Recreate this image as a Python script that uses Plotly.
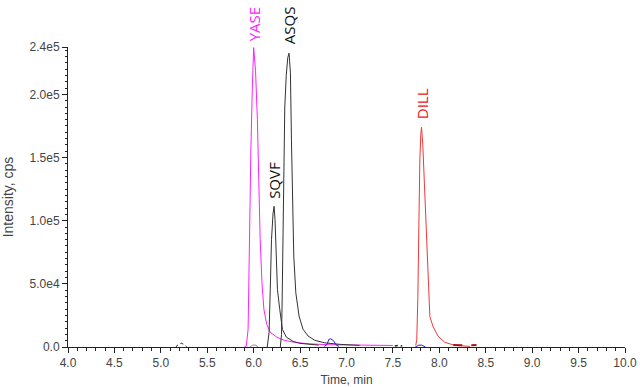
import plotly.graph_objects as go

# ---- data ----
yase_t = [5.90, 5.92, 5.94, 5.95, 5.97, 5.985, 6.00, 6.02, 6.04, 6.055, 6.07, 6.09, 6.11, 6.14, 6.18, 6.25, 6.33, 6.44, 6.60, 6.80, 7.00, 7.20, 7.50]
yase_i = [0, 500, 14000, 77000, 156000, 204000, 237000, 219000, 180000, 132000, 85000, 50000, 30000, 18000, 11500, 7700, 5300, 3700, 2500, 1800, 1500, 1500, 1200]

sqvf_t = [6.146, 6.166, 6.179, 6.192, 6.209, 6.220, 6.230, 6.238, 6.256, 6.281, 6.310, 6.353, 6.425, 6.497, 6.60, 6.70]
sqvf_i = [0, 11600, 45600, 85000, 106000, 111400, 101000, 80000, 45600, 29800, 14000, 7700, 4500, 2900, 2000, 1500]

asqs_t = [6.287, 6.300, 6.306, 6.317, 6.327, 6.335, 6.351, 6.367, 6.381, 6.396, 6.407, 6.418, 6.432, 6.454, 6.489, 6.532, 6.586, 6.658, 6.766, 6.928, 7.14]
asqs_i = [0, 10000, 32400, 111400, 156000, 190000, 215000, 229000, 232600, 217000, 164000, 111400, 72000, 43000, 24500, 14000, 8700, 5300, 3300, 2100, 1300]

dill_t = [7.746, 7.757, 7.768, 7.779, 7.790, 7.800, 7.808, 7.822, 7.833, 7.844, 7.862, 7.879, 7.898, 7.933, 7.987, 8.059, 8.167, 8.33]
dill_i = [1300, 6000, 37700, 101000, 148000, 168000, 174000, 160000, 140000, 122000, 83000, 56000, 24000, 16000, 8500, 3700, 1300, 500]

bump1_t = [5.16, 5.19, 5.22, 5.25, 5.28]
bump1_i = [0, 2000, 3000, 2000, 0]
blue_t = [6.76, 6.79, 6.81, 6.83, 6.86, 6.89, 6.92]
blue_i = [500, 2000, 6000, 6500, 5000, 1500, 500]
blue2_t = [7.74, 7.78, 7.81, 7.85]
blue2_i = [0, 1500, 1500, 0]
grey_t = [5.96, 5.99, 6.02, 6.05]
grey_i = [0, 1500, 1500, 0]
red_t = [8.15, 8.25, 8.32, 8.40]
red_i = [1500, 1000, 1200, 1500]
dots_t = [7.52, 7.56, 7.60]
dots_i = [800, 1200, 800]

marker_t = [3.97]
marker_i = [9200]

labels = ["YASE", "SQVF", "ASQS", "DILL"]
label_t = [6.00, 6.22, 6.381, 7.808]
label_i = [233000, 111400, 232600, 174000]
label_shift = [9, 5, 7, 6]
label_col = ["#ff22ff", "#111111", "#111111", "#e82020"]

ytick_vals = [0, 50000, 100000, 150000, 200000, 237500]
ytick_text = ["0.0", "5.0e4", "1.0e5", "1.5e5", "2.0e5", "2.4e5"]

fig = go.Figure()

def line(t, i, color, width=1, dash="solid"):
    fig.add_trace(go.Scatter(x=t, y=i, mode="lines", line=dict(color=color, width=width, dash=dash),
                             showlegend=False, hoverinfo="skip"))

line(grey_t, grey_i, "#8a8ab0")
line(bump1_t, bump1_i, "#222222", 1, "dot")
line(yase_t, yase_i, "#ff22ff")
line(sqvf_t, sqvf_i, "#333333")
line(asqs_t, asqs_i, "#333333")
line(blue_t, blue_i, "#2222cc")
line(dots_t, dots_i, "#222222", 1.5, "dot")
line(dill_t, dill_i, "#f03838")
line(blue2_t, blue2_i, "#2222cc")
line(red_t, red_i, "#a01818", 2, "dash")

fig.add_trace(go.Scatter(x=marker_t, y=marker_i, mode="markers",
                         marker=dict(symbol="triangle-right", size=10, color="#1a1a9a"),
                         cliponaxis=False, showlegend=False, hoverinfo="skip"))

for lab, t, v, s, c in zip(labels, label_t, label_i, label_shift, label_col):
    fig.add_annotation(x=t, y=v, text=lab, textangle=-90, showarrow=False,
                       xanchor="center", yanchor="bottom", yshift=s,
                       font=dict(family="Open Sans", size=15, color=c))

tickfont = dict(family="Liberation Sans", size=12, color="#444444")
fig.update_layout(
    width=640, height=387,
    margin=dict(l=68, r=15, t=47, b=40, autoexpand=False),
    paper_bgcolor="white", plot_bgcolor="white",
    font=dict(family="Liberation Sans", size=12, color="#444444"),
)
fig.update_xaxes(range=[4, 10], dtick=0.5, tick0=4, tickformat=".1f", automargin=False,
                 showline=True, linecolor="#222222", linewidth=1,
                 ticks="outside", ticklen=5, tickcolor="#222222",
                 minor=dict(dtick=0.1, ticks="outside", ticklen=3, tickcolor="#222222"),
                 showgrid=False, zeroline=False, tickfont=tickfont,
                 title=dict(text="Time, min", font=dict(family="Liberation Sans", size=12, color="#444444"), standoff=6))
fig.update_yaxes(range=[0, 237500], tickvals=ytick_vals, ticktext=ytick_text, automargin=False,
                 showline=True, linecolor="#222222", linewidth=1,
                 ticks="outside", ticklen=5, tickcolor="#222222",
                 minor=dict(dtick=5000, ticks="outside", ticklen=2, tickcolor="#222222"),
                 showgrid=False, zeroline=False, tickfont=tickfont,
                 title=dict(text="Intensity, cps", font=dict(family="Liberation Sans", size=14, color="#444444"), standoff=14))

fig.write_html("out.html", config={"displayModeBar": False},
               post_script="document.body.style.margin='0px';")
